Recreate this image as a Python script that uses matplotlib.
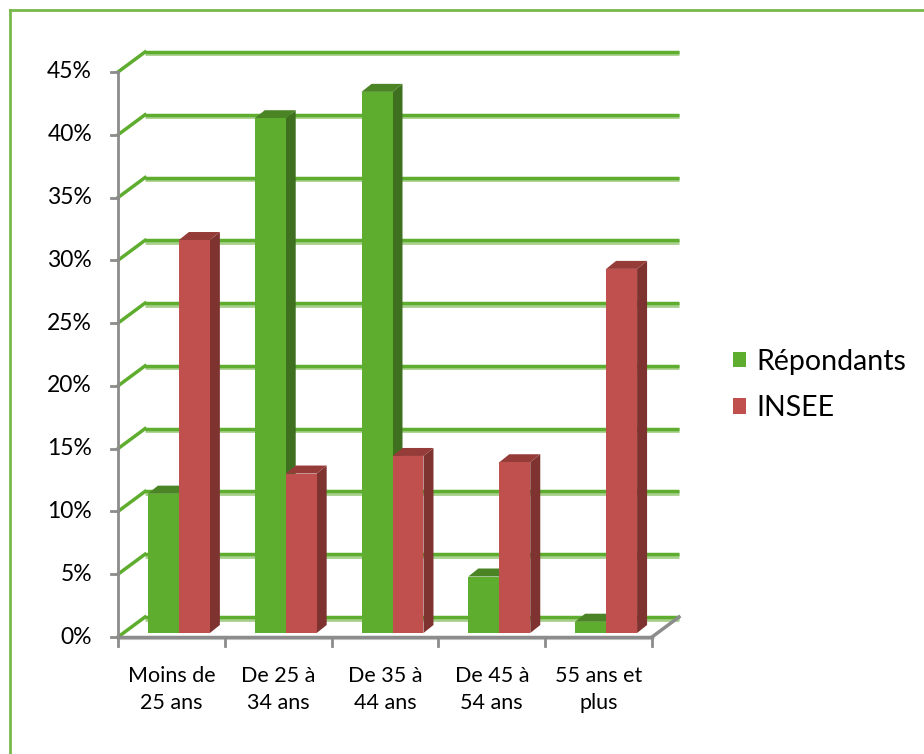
import numpy as np
import matplotlib.pyplot as plt
from matplotlib.patches import Polygon, Patch

categories = ['Moins de\n25 ans', 'De 25 à\n34 ans', 'De 35 à\n44 ans', 'De 45 à\n54 ans', '55 ans et\nplus']
repondants = [0.111, 0.410, 0.431, 0.045, 0.009]
insee = [0.313, 0.127, 0.141, 0.136, 0.290]
yticks = np.arange(0, 0.46, 0.05)

plt.rcParams['font.family'] = ['Lato', 'DejaVu Sans']

W, H = 924, 754
fig = plt.figure(figsize=(W / 100, H / 100), dpi=100)
# front plane of the 3d box, pixels
x0, x1, y0, y1 = 118, 652, 637, 72
ax = fig.add_axes([x0 / W, 1 - y0 / H, (x1 - x0) / W, (y0 - y1) / H])
xmin, xmax, ymin, ymax = -0.5, 4.5, 0.0, 0.45
ax.set_xlim(xmin, xmax)
ax.set_ylim(ymin, ymax)
ax.axis('off')

# pixel -> data units
sx = (xmax - xmin) / (x1 - x0)
sy = (ymax - ymin) / (y0 - y1)

back = (27 * sx, 20 * sy)      # back wall offset
depth = (10 * sx, 8 * sy)      # bar depth
shift = (7.5 * sx, 4 * sy)     # bars plane

green = '#5EAD2E'
green_light = '#A9D18E'
grey = '#8C8C8C'

# back gridlines and obliques
for t in yticks:
    ax.plot([xmin + back[0], xmax + back[0]], [t + back[1] - 1.5 * sy] * 2,
            color=green_light, lw=3.5, clip_on=False, zorder=1, solid_capstyle='butt')
    ax.plot([xmin + back[0], xmax + back[0]], [t + back[1]] * 2,
            color=green, lw=2.5, clip_on=False, zorder=1.1, solid_capstyle='butt')
    ax.plot([xmin, xmin + back[0]], [t, t + back[1]],
            color=green, lw=2.5, clip_on=False, zorder=1.1)

# front axes
ax.plot([xmin, xmin], [ymin, ymax], color=grey, lw=2, clip_on=False, zorder=2)
for t in yticks:
    ax.plot([xmin - 7 * sx, xmin], [t, t], color=grey, lw=2, clip_on=False, zorder=2)
    ax.text(xmin - 26 * sx, t, f'{int(round(t * 100))}%', ha='right', va='center',
            fontsize=16.5, color='black')
ax.plot([xmin, xmax], [ymin, ymin], color=grey, lw=2.5, clip_on=False, zorder=2)
ax.plot([xmin, xmax], [ymin - 2 * sy, ymin - 2 * sy], color='#D0D0D0', lw=1.5, clip_on=False, zorder=1.9)
ax.plot([xmax, xmax + back[0]], [ymin, ymin + back[1]], color=grey, lw=2.5, clip_on=False, zorder=2)
for b in np.arange(xmin, xmax + 0.01, 1.0):
    ax.plot([b, b], [ymin, ymin - 9 * sy], color=grey, lw=2, clip_on=False, zorder=2)
for i, c in enumerate(categories):
    ax.text(i, ymin - 29 * sy, c, ha='center', va='top', fontsize=15.5,
            linespacing=1.45, color='black')

# bars with fake 3d faces
bw = 0.29
series = [(repondants, -bw / 2, green, '#3E7020', '#4A8424', 'Répondants'),
          (insee, bw / 2, '#C0504D', '#7E3331', '#953C39', 'INSEE')]
handles = []
for vals, off, cf, cs, ct, lab in series:
    xs = np.arange(len(vals)) + off
    for x, v in zip(xs, vals):
        xl = x - bw / 2 + shift[0]
        xr = x + bw / 2 + shift[0]
        yb = shift[1]
        yt = v + shift[1]
        ax.add_patch(Polygon([(xr, yb), (xr, yt), (xr + depth[0], yt + depth[1]),
                              (xr + depth[0], yb + depth[1])],
                             closed=True, fc=cs, ec='none', zorder=3, clip_on=False))
        ax.add_patch(Polygon([(xl, yt), (xr, yt), (xr + depth[0], yt + depth[1]),
                              (xl + depth[0], yt + depth[1])],
                             closed=True, fc=ct, ec='none', zorder=3, clip_on=False))
    ax.bar(xs + shift[0], vals, width=bw, bottom=shift[1], color=cf,
           zorder=4, clip_on=False)
    handles.append(Patch(fc=cf, ec='none', label=lab))

fig.legend(handles=handles, loc='center left', bbox_to_anchor=(733 / W, 1 - 385 / H),
           frameon=False, fontsize=20.5, handlelength=0.46, handleheight=0.46,
           handletextpad=0.36, labelspacing=0.72, borderpad=0, borderaxespad=0)

# outer frame (only top and left visible)
fig.add_artist(plt.Line2D([10 / W, 10 / W], [0, 1 - 10 / H], color='#79B84A', lw=2))
fig.add_artist(plt.Line2D([10 / W, 1], [1 - 10 / H, 1 - 10 / H], color='#79B84A', lw=2))

fig.savefig('out.png', dpi=100)
